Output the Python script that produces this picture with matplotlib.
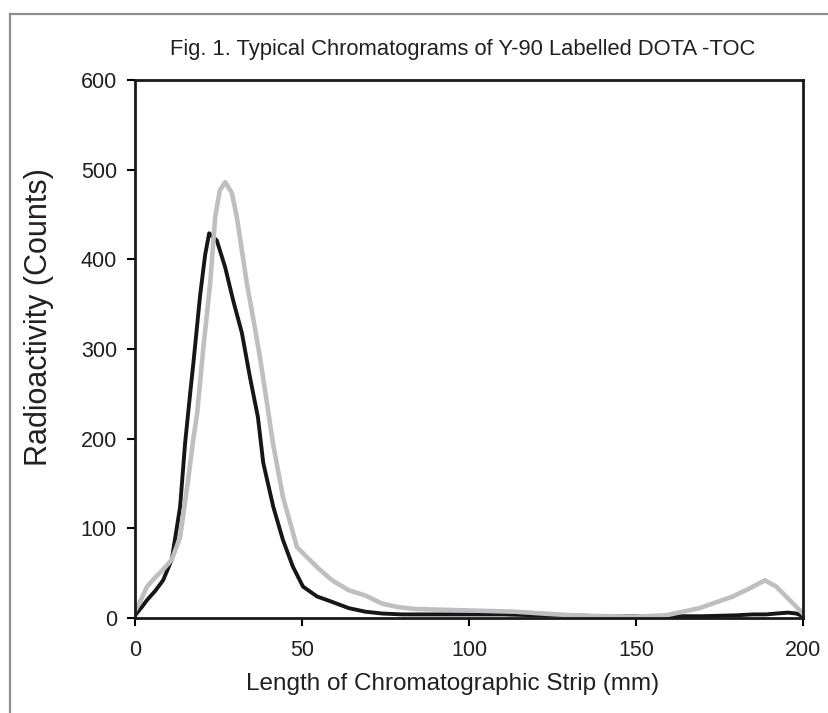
import matplotlib
matplotlib.use('Agg')
import matplotlib.pyplot as plt
from matplotlib.lines import Line2D

plt.rcParams['font.family'] = ['Liberation Sans', 'DejaVu Sans']

# strip position (mm) and counts
x_black = [0, 2, 3.6, 6, 8.4, 11, 13.5, 15, 16.5, 17.5, 19.5, 21, 22.2, 24.5, 27,
           29.4, 32, 34.4, 36.8, 38.4, 41.4, 44.3, 47.3, 50.3, 54.5, 59, 64, 69,
           74, 80, 90, 100, 110, 120, 130, 140, 150, 160, 170, 180, 185, 189,
           192, 195.5, 198, 200]
y_black = [3, 12, 20, 30, 42, 65, 124, 195, 250, 285, 360, 405, 429, 421, 391,
           354, 318, 269, 224, 173, 124, 87, 57, 35, 24, 18, 11, 7,
           5, 4, 4, 4, 4, 3, 3, 2, 2, 2, 2, 3, 4, 4,
           5, 6, 5, 2]

x_gray = [0, 2, 3.6, 6, 8.4, 11, 13.5, 15.9, 17.4, 18.6, 20.4, 22.5, 24, 25.4,
          27, 29, 30.5, 32, 33.5, 35.3, 37.4, 39.5, 41.3, 44.3, 48.5, 52, 55,
          59, 64, 69, 74, 79, 84, 94, 104, 114, 124, 134, 149, 159, 169, 179,
          184, 188.6, 192, 196, 200]
y_gray = [8, 22, 35, 45, 54, 65, 90, 154, 198, 228, 299, 373, 447, 477,
          486, 474, 447, 410, 373, 336, 291, 240, 195, 135, 79, 66, 55,
          42, 31, 25, 16, 12, 10, 9, 8, 7, 4.5, 2.5, 1.5, 3, 11, 24,
          33, 42, 35, 20, 5]

xticks = [0, 50, 100, 150, 200]
yticks = [0, 100, 200, 300, 400, 500, 600]

txt = '#231f20'

fig = plt.figure(figsize=(8.29, 7.13), dpi=100)
ax = fig.add_axes([135/829, 1-618/713, 668/829, 538/713])

ax.plot(x_black, y_black, color='#161616', lw=2.8, solid_joinstyle='round')
ax.plot(x_gray, y_gray, color='#bfbfc1', lw=3.3, solid_joinstyle='round')

ax.set_xlim(0, 200)
ax.set_ylim(0, 600)
ax.set_xticks(xticks)
ax.set_yticks(yticks)
ax.tick_params(direction='out', length=6, width=1.5, colors='black',
               labelcolor=txt, labelsize=15.5)
ax.tick_params(axis='x', pad=10)
ax.tick_params(axis='y', pad=7)
for s in ax.spines.values():
    s.set_linewidth(2)
    s.set_color('#1a1a1a')

ax.set_xlabel('Length of Chromatographic Strip (mm)', fontsize=17.5, color=txt)
ax.set_ylabel('Radioactivity (Counts)', fontsize=22, color=txt)
ax.xaxis.set_label_coords(0.475, -0.103)
ax.yaxis.set_label_coords(-0.122, 0.56)

fig.text(463/829, 1-50/713, 'Fig. 1. Typical Chromatograms of Y-90 Labelled DOTA -TOC',
         ha='center', va='center', fontsize=15.8, color=txt)

# grey frame around the figure (cut off on right and bottom)
fig.add_artist(Line2D([10/829, 10/829], [0, 1-14/713], transform=fig.transFigure,
                      color='#8c8c8c', lw=1.6))
fig.add_artist(Line2D([10/829, 1], [1-14/713, 1-14/713], transform=fig.transFigure,
                      color='#8c8c8c', lw=1.6))

fig.savefig('out.png', dpi=100)
